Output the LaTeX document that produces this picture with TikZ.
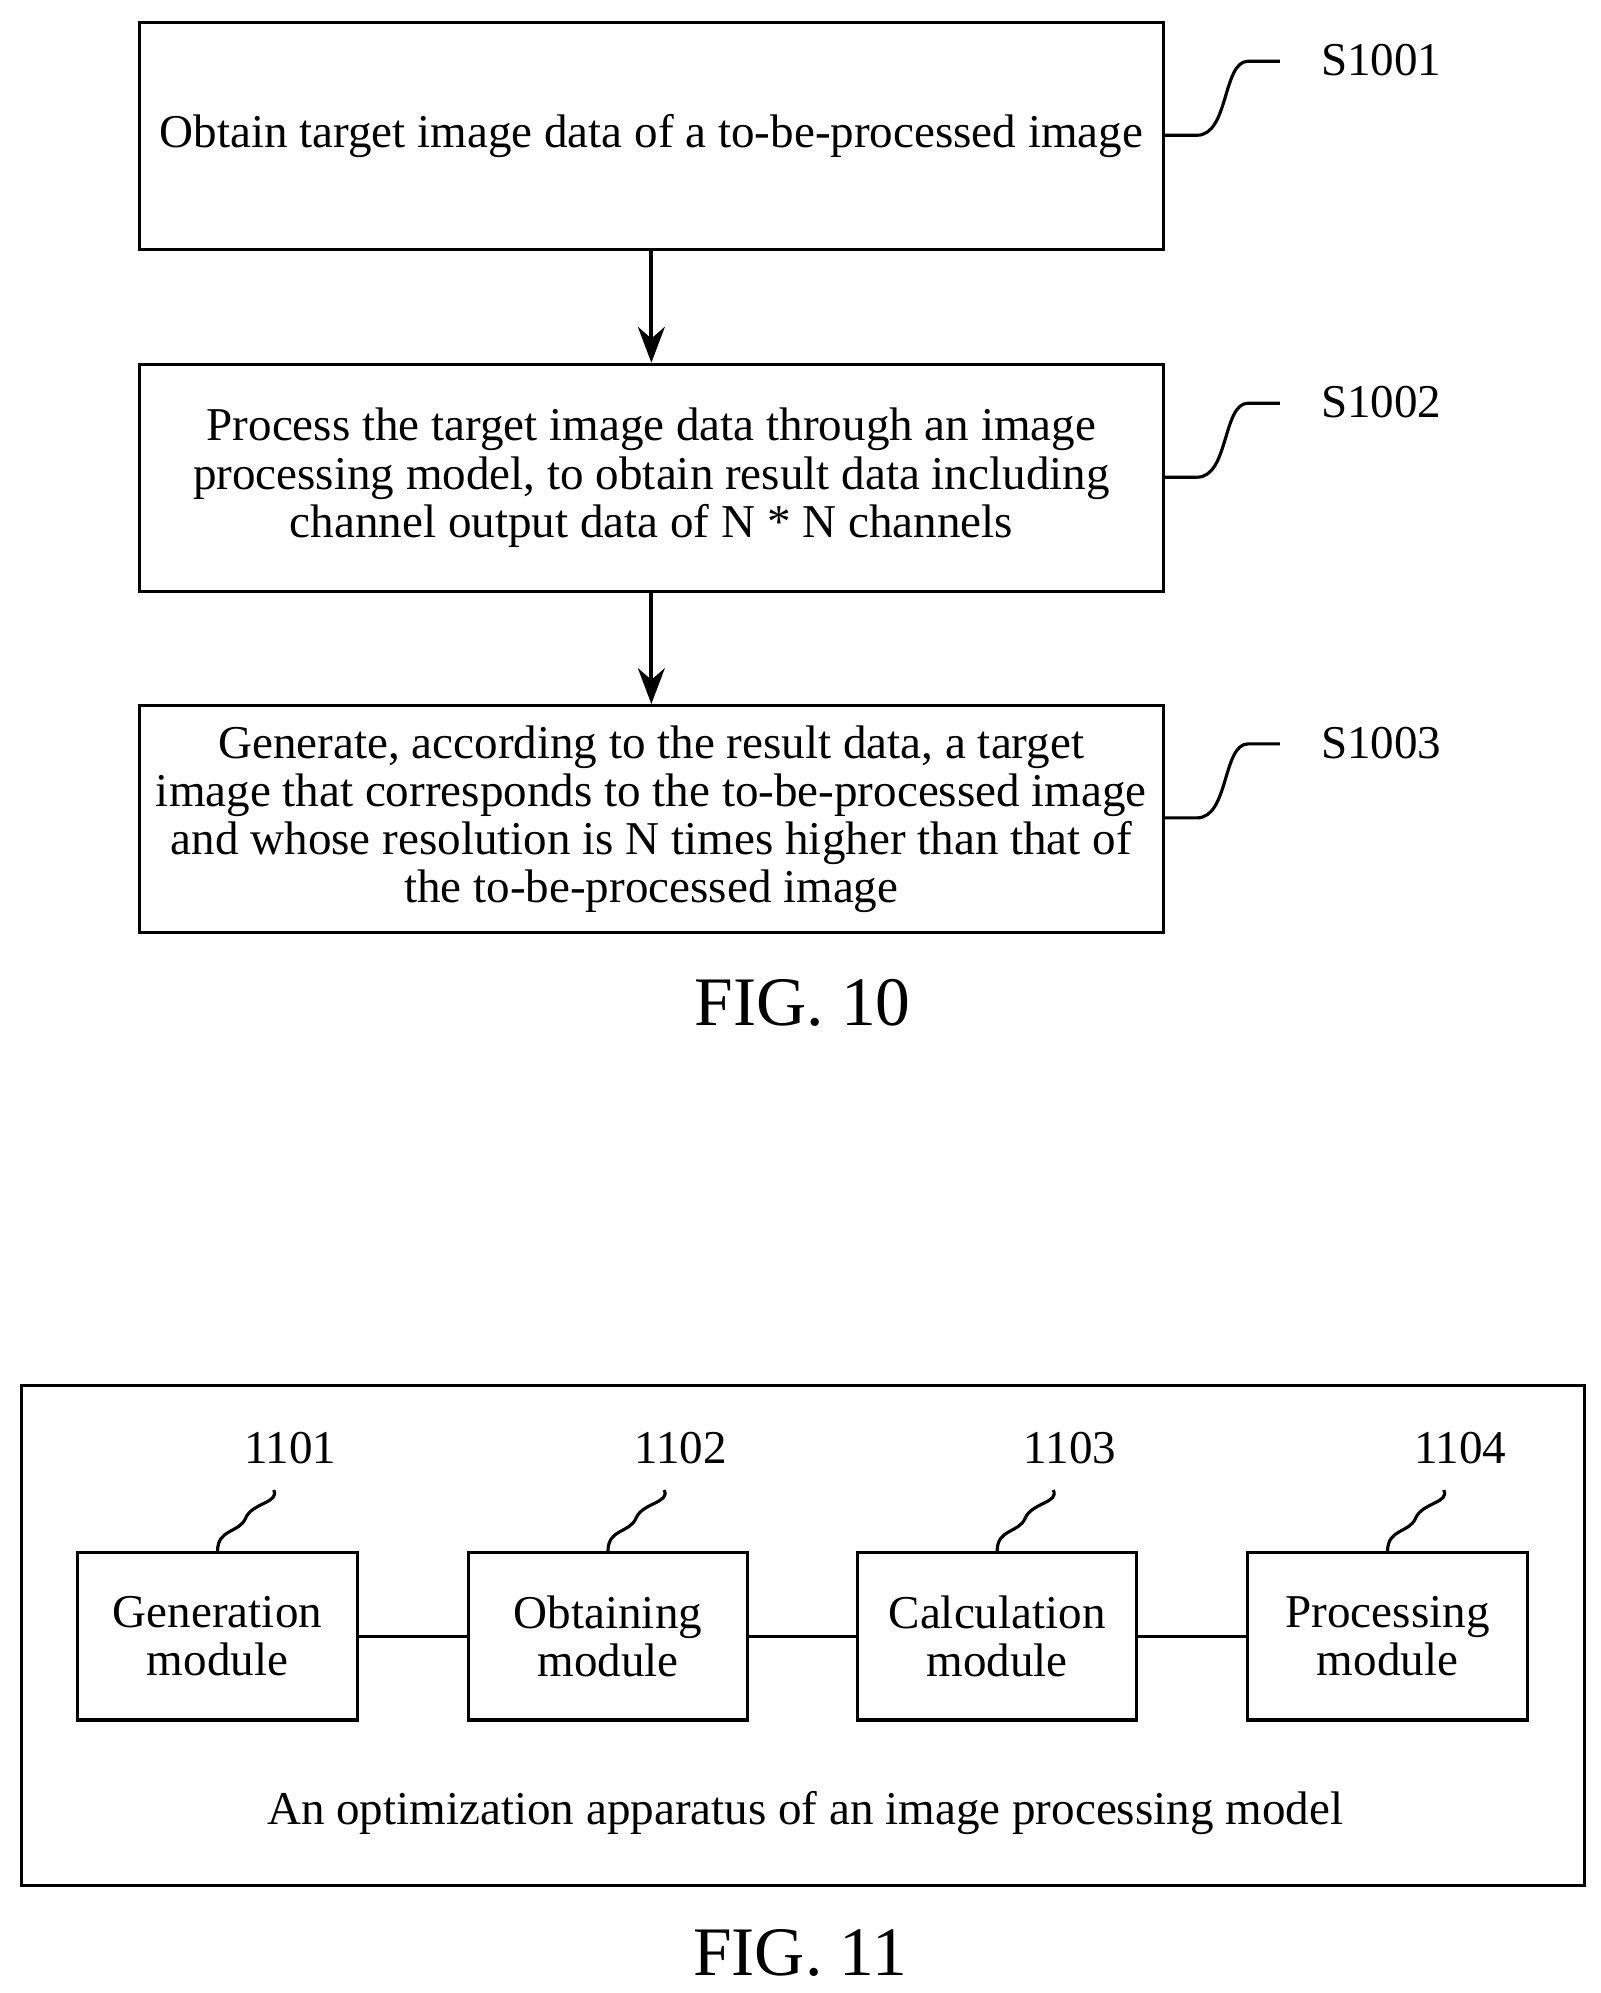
\documentclass[tikz,border=0pt]{standalone}
\usepackage{fontspec}
\setmainfont{Liberation Serif}
\usetikzlibrary{arrows.meta}
\tikzset{
  stepbox/.style={draw, line width=1.4pt, minimum width=16.06cm, minimum height=3.56cm,
    align=center, font=\fontsize{21}{21.5}\selectfont, inner sep=0pt},
  module/.style={draw, line width=1.4pt, minimum width=4.38cm, minimum height=2.62cm,
    align=center, font=\fontsize{21}{21.5}\selectfont, inner sep=0pt},
  tag/.style={font=\fontsize{21}{21.5}\selectfont},
  fig/.style={font=\fontsize{31}{34}\selectfont},
  squiggle/.style={line width=1.4pt},
}
\begin{document}
\begin{tikzpicture}[x=0.02cm, y=-0.02cm]
  \useasboundingbox (0,0) rectangle (1254,1562);
  % FIG. 10
  \node[stepbox] (s1) at (510.5,106.5) {Obtain target image data of a to-be-processed image};
  \node[stepbox] (s2) at (510.5,374.5) {Process the target image data through an image\\processing model, to obtain result data including\\channel output data of N * N channels};
  \node[stepbox] (s3) at (510.5,642) {Generate, according to the result data, a target\\image that corresponds to the to-be-processed image\\and whose resolution is N times higher than that of\\the to-be-processed image};
  \draw[line width=1.8pt, -{Stealth[length=16pt, width=12pt]}] (s1) -- (s2);
  \draw[line width=1.8pt, -{Stealth[length=16pt, width=12pt]}] (s2) -- (s3);
  \foreach \n/\y in {1/106, 2/374, 3/641} {
    \draw[squiggle] (s\n.east |- 0,\y) -- ++(25,0)
      .. controls ++(25,0) and ++(-20,0) .. ++(40,-58) -- ++(25,0) coordinate (e\n);
    \path (e\n) ++(26,-1) node[tag, anchor=west] (l\n) {S100\n};
  }
  \node[fig] (f10) at (629,786) {FIG. 10};
  % FIG. 11
  \draw[line width=1.4pt] (17,1086) rectangle (1242,1478);
  \node[module] (m1) at (170.5,1282.5) {Generation\\module};
  \node[module] (m2) at (476.5,1282.5) {Obtaining\\module};
  \node[module] (m3) at (781.5,1282.5) {Calculation\\module};
  \node[module] (m4) at (1087.5,1282.5) {Processing\\module};
  \draw[line width=1.4pt] (m1) -- (m2) (m2) -- (m3) (m3) -- (m4);
  \foreach \n in {1,...,4} {
    \draw[squiggle] (m\n.north) .. controls ++(0,-18) and ++(-5,12) .. ++(22,-26)
      .. controls ++(5,-12) and ++(5,10) .. ++(22,-22) coordinate (t\n);
    \path (t\n) ++(13,-33) node[tag] (k\n) {110\n};
  }
  \node[tag] (cap) at (631,1421) {An optimization apparatus of an image processing model};
  \node[fig] (f11) at (627,1531) {FIG. 11};
\end{tikzpicture}
\end{document}
